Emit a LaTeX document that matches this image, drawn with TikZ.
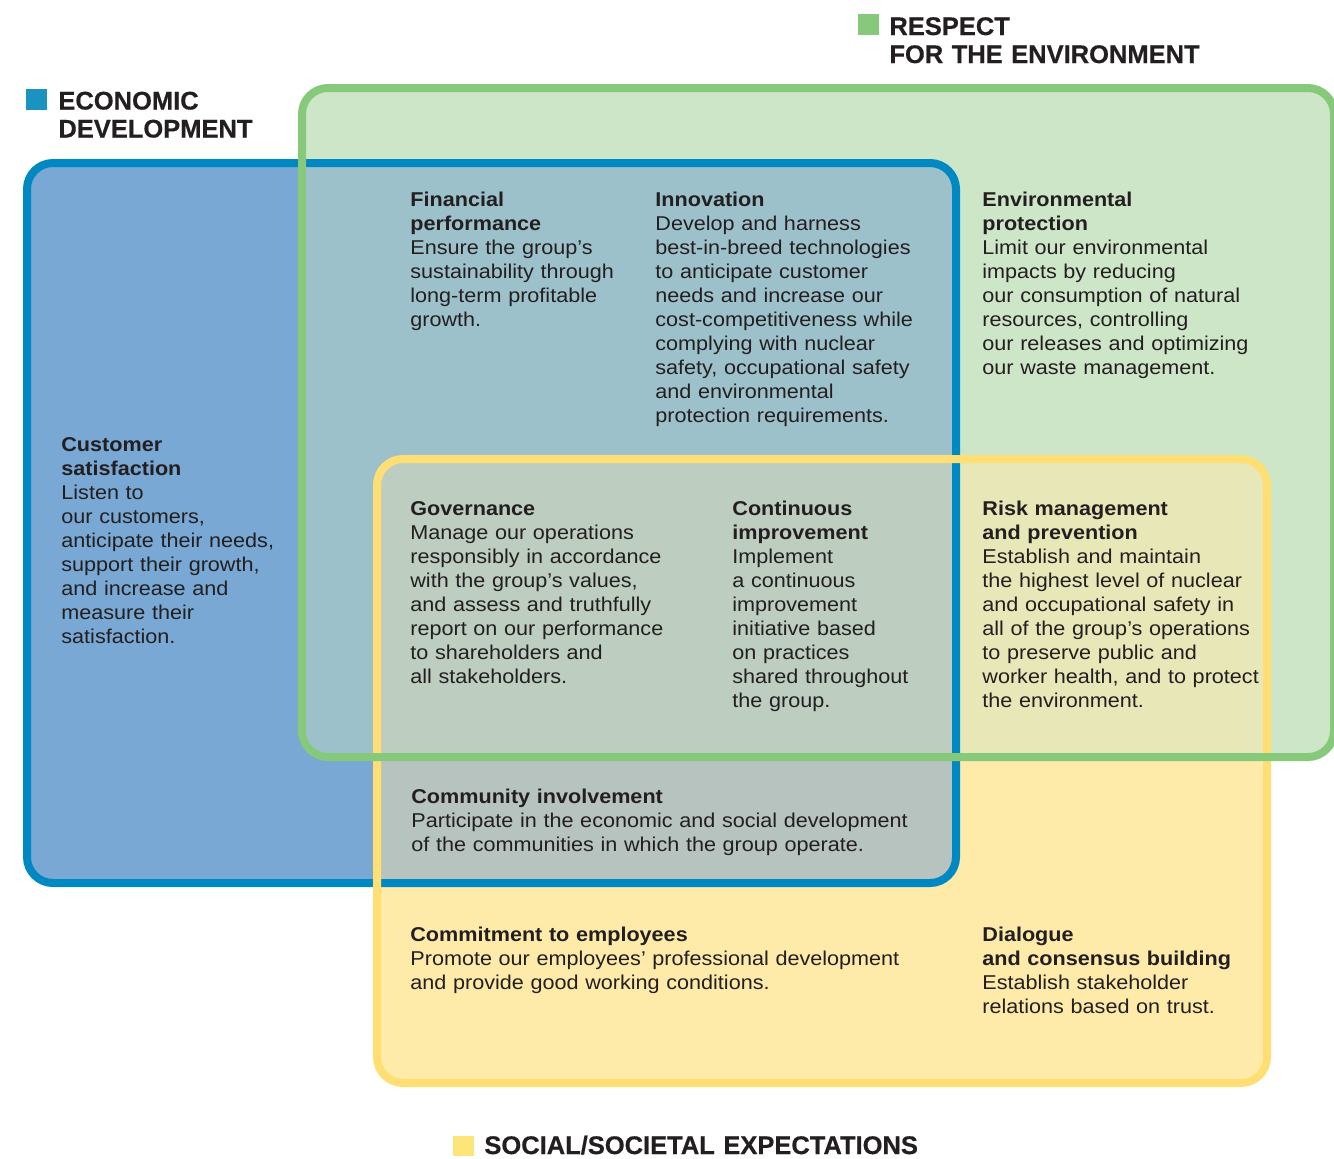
\documentclass[tikz,border=0pt]{standalone}
\usepackage{fontspec}
\setmainfont{Liberation Sans}[FakeStretch=1.08]
\newfontfamily\headfont{Liberation Sans}[BoldFeatures={FakeBold=0.5}]
\definecolor{ink}{HTML}{231F20}
\definecolor{blueLine}{HTML}{0088C2}
\definecolor{blueFill}{HTML}{78A8D3}
\definecolor{blueMark}{HTML}{1A93C0}
\definecolor{greenLine}{HTML}{86C97B}
\definecolor{greenFill}{HTML}{CDE6C7}
\definecolor{yellowLine}{HTML}{FFDF73}
\definecolor{yellowFill}{HTML}{FEEAA9}
\definecolor{yellowMark}{HTML}{FEE57A}
\definecolor{bgFill}{HTML}{9DC1CB}
\definecolor{byFill}{HTML}{B6C3BF}
\definecolor{gyFill}{HTML}{E8E7B7}
\definecolor{allFill}{HTML}{BDCDC0}
\tikzset{
  frame/.style={line width=4pt, rounded corners=13pt},
  body/.style={anchor=base west, inner sep=0pt, text width=#1, align=left,
    font=\fontsize{10}{12}\selectfont, text=ink},
  body/.default=150pt,
  heading/.style={anchor=base west, inner sep=0pt, text width=220pt, align=left,
    font=\headfont\fontsize{12.75}{14}\selectfont\bfseries, text=ink},
}
\begin{document}
\begin{tikzpicture}[x=0.5pt, y=-0.5pt]
\useasboundingbox (0,0) rectangle (1334,1158);
% the three areas
\def\ecoarea{(27,163) rectangle (956,883)}
\def\envarea{(302,88) rectangle (1334,757)}
\def\socarea{(377,459) rectangle (1267,1083)}
\fill[blueFill, rounded corners=13pt] \ecoarea;
\fill[greenFill, rounded corners=13pt] \envarea;
\fill[yellowFill, rounded corners=13pt] \socarea;
% overlaps
\begin{scope}
  \clip[rounded corners=13pt] \envarea;
  \fill[gyFill, rounded corners=13pt] \socarea;
\end{scope}
\begin{scope}
  \clip[rounded corners=13pt] \ecoarea;
  \fill[bgFill, rounded corners=13pt] \envarea;
  \fill[byFill, rounded corners=13pt] \socarea;
  \clip[rounded corners=13pt] \envarea;
  \fill[allFill, rounded corners=13pt] \socarea;
\end{scope}
% outlines
\draw[frame, blueLine] \ecoarea;
\draw[frame, yellowLine] \socarea;
\draw[frame, greenLine] \envarea;

% legend titles
\fill[blueMark] (26,89) rectangle (47,110);
\node[heading] (tEco) at (58,109.5) {ECONOMIC\\DEVELOPMENT};
\fill[greenLine] (858,14) rectangle (879,35);
\node[heading] (tEnv) at (889,35) {RESPECT\\FOR THE ENVIRONMENT};
\fill[yellowMark] (453,1136) rectangle (474,1156);
\node[heading] (tSoc) at (484,1154) {SOCIAL/SOCIETAL EXPECTATIONS};

% commitments
\node[body] (fin) at (410,206) {\textbf{Financial}\\\textbf{performance}\\Ensure the group's\\sustainability through\\long-term profitable\\growth.};
\node[body] (inno) at (655,206) {\textbf{Innovation}\\Develop and harness\\best-in-breed technologies\\to anticipate customer\\needs and increase our\\cost-competitiveness while\\complying with nuclear\\safety, occupational safety\\and environmental\\protection requirements.};
\node[body] (env) at (982,206) {\textbf{Environmental}\\\textbf{protection}\\Limit our environmental\\impacts by reducing\\our consumption of natural\\resources, controlling\\our releases and optimizing\\our waste management.};
\node[body] (cust) at (61,451) {\textbf{Customer}\\\textbf{satisfaction}\\Listen to\\our customers,\\anticipate their needs,\\support their growth,\\and increase and\\measure their\\satisfaction.};
\node[body] (gov) at (410,515) {\textbf{Governance}\\Manage our operations\\responsibly in accordance\\with the group's values,\\and assess and truthfully\\report on our performance\\to shareholders and\\all stakeholders.};
\node[body] (cont) at (732,515) {\textbf{Continuous}\\\textbf{improvement}\\Implement\\a continuous\\improvement\\initiative based\\on practices\\shared throughout\\the group.};
\node[body] (risk) at (982,515) {\textbf{Risk management}\\\textbf{and prevention}\\Establish and maintain\\the highest level of nuclear\\and occupational safety in\\all of the group's operations\\to preserve public and\\worker health, and to protect\\the environment.};
\node[body=300pt] (comm) at (411,803) {\textbf{Community involvement}\\Participate in the economic and social development\\of the communities in which the group operate.};
\node[body=300pt] (empl) at (410,941) {\textbf{Commitment to employees}\\Promote our employees' professional development\\and provide good working conditions.};
\node[body] (dial) at (982,941) {\textbf{Dialogue}\\\textbf{and consensus building}\\Establish stakeholder\\relations based on trust.};
\end{tikzpicture}
\end{document}
